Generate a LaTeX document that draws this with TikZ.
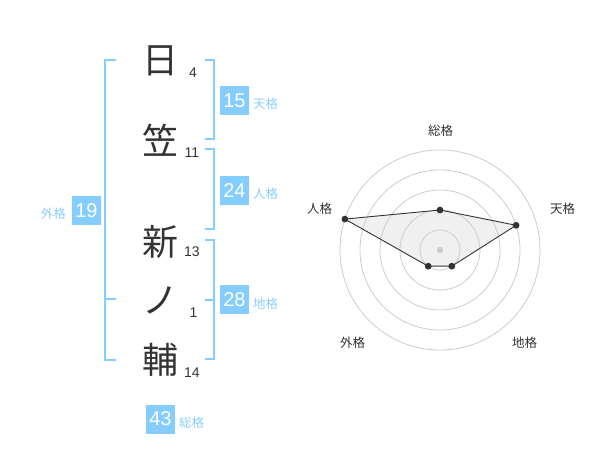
\documentclass[tikz,border=0pt]{standalone}
\usepackage{fontspec}
\setmainfont{Liberation Sans}
\newfontfamily\jp{Noto Sans CJK JP}
\usepackage{tikz}
\usetikzlibrary{positioning}
\definecolor{NBBlue}{RGB}{133,204,255}
\definecolor{NBLabel}{RGB}{140,206,250}
\definecolor{NBText}{RGB}{51,51,51}
\definecolor{NBGrid}{RGB}{204,204,204}
\definecolor{NBFill}{RGB}{240,240,240}

\begin{document}
\begin{tikzpicture}[x=1pt,y=-1pt,
		kanji/.style={inner sep=0,text=NBText,font=\jp\fontsize{36}{36}\selectfont},
		strokes/.style={inner sep=0,text=NBText,font=\fontsize{14}{14}\selectfont},
		score/.style={fill=NBBlue,text=white,inner sep=0,minimum width=29pt,minimum height=29pt,font=\fontsize{20}{20}\selectfont},
		kaku/.style={inner sep=0,text=NBLabel,font=\jp\fontsize{12.5}{12.5}\selectfont},
		axis/.style={inner sep=0,text=NBText,font=\jp\fontsize{12.5}{12.5}\selectfont},
		bracket/.style={NBBlue,line width=2pt}]
			\useasboundingbox (0,0) rectangle (600,470);
			\begin{scope}
				% name
				\node[kanji] (c1) at (160,61) {日};
				\node[kanji] (c2) at (160,140) {笠};
				\node[kanji] (c3) at (160,242) {新};
				\node[kanji] (c4) at (160,300) {ノ};
				\node[kanji] (c5) at (160,360) {輔};
				\node[strokes] (s1) at (193,73) {4};
				\node[strokes] (s2) at (192,153) {11};
				\node[strokes] (s3) at (192,252) {13};
				\node[strokes] (s4) at (193.5,313) {1};
				\node[strokes] (s5) at (192,373) {14};
				
				% brackets
				\draw[bracket] (205,60) -- (214,60) -- (214,139) -- (205,139);
				\draw[bracket] (205,149) -- (214,149) -- (214,229) -- (205,229);
				\draw[bracket] (205,240) -- (214,240) -- (214,359) -- (205,359);
				\draw[bracket] (205,300) -- (214,300);
				\draw[bracket] (116,60) -- (105,60) -- (105,360) -- (116,360);
				\draw[bracket] (105,299) -- (116,299);
				
				% scores
				\node[score] (ten) at (234.5,100.5) {15};
				\node[kaku,anchor=west] (ten-l) at (253,104) {天格};
				\node[score] (jin) at (234.5,190.5) {24};
				\node[kaku,anchor=west] (jin-l) at (253,194) {人格};
				\node[score] (chi) at (234.5,300) {28};
				\node[kaku,anchor=west] (chi-l) at (253,304) {地格};
				\node[score] (gai) at (86.5,210.5) {19};
				\node[kaku,anchor=east] (gai-l) at (66,214) {外格};
				\node[score] (sou) at (160.5,419) {43};
				\node[kaku,anchor=west] (sou-l) at (179,423) {総格};
			\end{scope}
			
			\begin{scope}
				% radar
				\coordinate (ctr) at (440,250);
				\coordinate (p-sou) at (440,210);
				\coordinate (p-ten) at (516.1,225.3);
				\coordinate (p-chi) at (451.8,266.2);
				\coordinate (p-gai) at (428.2,266.2);
				\coordinate (p-jin) at (344.9,219.1);
				\fill[NBFill] (p-sou) -- (p-ten) -- (p-chi) -- (p-gai) -- (p-jin) -- cycle;
				\draw[NBGrid,line width=0.8pt] (ctr) circle[radius=20pt];
				\draw[NBGrid,line width=0.8pt] (ctr) circle[radius=40pt];
				\draw[NBGrid,line width=0.8pt] (ctr) circle[radius=60pt];
				\draw[NBGrid,line width=0.8pt] (ctr) circle[radius=80pt];
				\draw[NBGrid,line width=0.8pt] (ctr) circle[radius=100pt];
				\fill[NBGrid] (ctr) circle[radius=3.2pt];
				\draw[NBText,line width=0.9pt] (p-sou) -- (p-ten) -- (p-chi) -- (p-gai) -- (p-jin) -- cycle;
				\fill[NBText] (p-sou) circle[radius=3.4pt];
				\fill[NBText] (p-ten) circle[radius=3.4pt];
				\fill[NBText] (p-chi) circle[radius=3.4pt];
				\fill[NBText] (p-gai) circle[radius=3.4pt];
				\fill[NBText] (p-jin) circle[radius=3.4pt];
				\node[axis] (a-sou) at (440.5,130.5) {総格};
				\node[axis] (a-ten) at (562.5,208.5) {天格};
				\node[axis] (a-jin) at (319.5,208.5) {人格};
				\node[axis] (a-gai) at (352.5,342.5) {外格};
				\node[axis] (a-chi) at (524.5,342.5) {地格};
			\end{scope}
		\end{tikzpicture}
\end{document}
